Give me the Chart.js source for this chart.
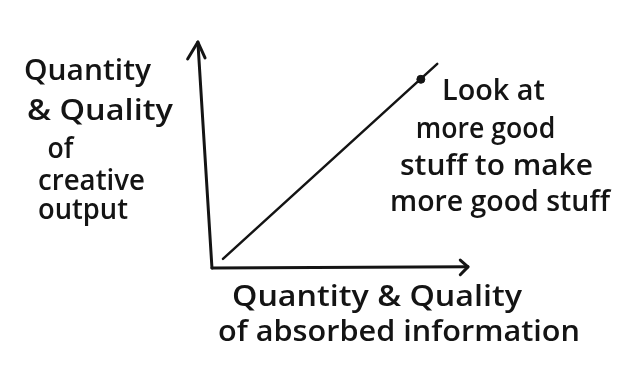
<!DOCTYPE html>
<html>
<head>
<meta charset="utf-8">
<script src="https://cdn.jsdelivr.net/npm/chart.js@4"></script>
<style>
  html, body { margin: 0; padding: 0; background: #ffffff; }
  #wrap { width: 640px; height: 377px; }
</style>
</head>
<body>
<div id="wrap"><canvas id="grafico"></canvas></div>
<script>
// dados (unidades abstratas, origem no canto dos eixos)
var eixoY = [{x: 0, y: 0}, {x: -0.55, y: 10}];
var eixoX = [{x: 0, y: 0}, {x: 10, y: 0.05}];
var setaY = [{x: -0.95, y: 9.25}, {x: -0.55, y: 10}, {x: -0.27, y: 9.3}];
var setaX = [{x: 9.7, y: 0.35}, {x: 10, y: 0.05}, {x: 9.7, y: -0.3}];
var tendencia = [{x: 0.43, y: 0.4}, {x: 8.8, y: 9.03}];
var ponto = [{x: 8.16, y: 8.35}];

var textoEixoY = ["Quantity", "& Quality", "of", "creative", "output"];
var textoEixoX = ["Quantity & Quality", "of absorbed information"];
var textoNota = ["Look at", "more good", "stuff to make", "more good stuff"];

var tinta = "#141414";

function linha(data, w) {
    return {
        data: data,
        showLine: true,
        borderColor: tinta,
        borderWidth: w,
        pointRadius: 0,
        borderCapStyle: 'round',
        borderJoinStyle: 'round',
        clip: false
    };
}

// [x, linha de base, largura] em pixels para cada linha de texto
var posY = [[24, 80, 127], [24, 120, 152], [48, 158, 25], [38, 190, 107], [38, 219, 90]];
var posN = [[442, 100, 103], [423, 138, 125], [400, 175, 193], [390, 211, 220]];
var posX = [[232, 306, 290], [218, 341, 362]];

function escrever(ctx, linhas, pos) {
    linhas.forEach(function (t, i) {
        var w = ctx.measureText(t).width;
        var s = Math.min(1.12, Math.max(0.92, pos[i][2] / w));
        ctx.save();
        ctx.translate(pos[i][0] + pos[i][2] / 2, pos[i][1]);
        ctx.scale(s, 1);
        ctx.fillText(t, 0, 0);
        ctx.restore();
    });
}

var textos = {
    id: 'textos',
    afterDraw: function (chart) {
        var ctx = chart.ctx;
        ctx.save();
        ctx.fillStyle = tinta;
        ctx.textAlign = 'center';
        ctx.textBaseline = 'alphabetic';
        ctx.font = '600 29px "Open Sans"';
        escrever(ctx, textoEixoY, posY);
        escrever(ctx, textoNota, posN);
        escrever(ctx, textoEixoX, posX);
        ctx.restore();
    }
};

var ctx = document.getElementById('grafico').getContext('2d');
new Chart(ctx, {
    type: 'scatter',
    data: {
        datasets: [
            linha(eixoY, 3),
            linha(eixoX, 3),
            linha(setaY, 3),
            linha(setaX, 3),
            linha(tendencia, 2.5),
            {
                data: ponto,
                pointRadius: 4,
                pointBackgroundColor: tinta,
                pointBorderColor: tinta,
                clip: false
            }
        ]
    },
    options: {
        responsive: true,
        maintainAspectRatio: false,
        animation: false,
        layout: {
            padding: {left: 196.6, right: 161.8, top: 37.5, bottom: 104.5}
        },
        scales: {
            x: {display: false, min: -0.6, max: 10.4},
            y: {display: false, min: -0.2, max: 10.2}
        },
        plugins: {
            legend: {display: false},
            tooltip: {enabled: false}
        }
    },
    plugins: [textos]
});
</script>
</body>
</html>
